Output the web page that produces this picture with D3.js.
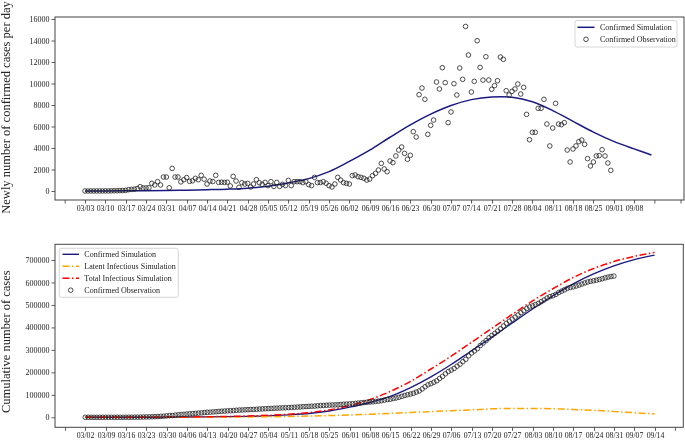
<!DOCTYPE html>
<html>
<head>
<meta charset="utf-8">
<script src="https://cdn.jsdelivr.net/npm/d3@7"></script>
<style>
html,body{margin:0;padding:0;background:#fff;}
svg{display:block;}
text{font-family:"Liberation Serif","Times New Roman",serif;fill:#222;}
</style>
</head>
<body>
<svg id="chart" width="685" height="440">
  <defs>
    <filter id="gray" x="-10%" y="-10%" width="120%" height="120%">
      <feColorMatrix type="saturate" values="0"/>
    </filter>
  </defs>
</svg>
<script>
// ---------- DATA ----------
const topStart = "03/03";
const bottomStart = "03/02";

const topTickLabels = ["03/03","03/10","03/17","03/24","03/31","04/07","04/14","04/21","04/28","05/05","05/12","05/19","05/26","06/02","06/09","06/16","06/23","06/30","07/07","07/14","07/21","07/28","08/04","08/11","08/18","08/25","09/01","09/08"];
const topBlankTicks = ["02/25","09/15","09/24"];
const topYTicks = [0,2000,4000,6000,8000,10000,12000,14000,16000];

const bottomTickLabels = ["03/02","03/09","03/16","03/23","03/30","04/06","04/13","04/20","04/27","05/04","05/11","05/18","05/25","06/01","06/08","06/15","06/22","06/29","07/06","07/13","07/20","07/27","08/03","08/10","08/17","08/24","08/31","09/07","09/14"];
const bottomBlankTicks = ["02/24","09/21"];
const bottomYTicks = [0,100000,200000,300000,400000,500000,600000,700000];

// Newly confirmed cases per day, observed (from 03/03, one per day)
const dailyObserved = [2,1,3,2,4,3,3,9,7,15,
22,26,40,45,60,120,150,170,230,400,
280,290,300,710,560,870,560,1300,1300,300,
2100,1300,1300,850,1050,1250,900,950,1180,1050,
1460,1100,650,930,880,1460,800,820,800,820,
470,1360,930,340,770,650,710,370,650,1050,
770,620,800,500,870,430,800,430,620,500,
990,500,870,870,870,780,870,600,500,1270,
780,780,870,720,500,370,650,1270,1020,780,
710,650,
1430,1490,1330,1270,1180,1020,1110,1430,1640,1950,
2570,2050,1800,2790,2640,3260,3810,4090,3500,2950,
3320,5520,5020,8960,9580,8530,5270,6110,6600,10140,
9490,11470,10080,6360,7350,9980,8930,11440,10390,15310,
12650,9210,10200,13980,11500,10320,12490,10320,9460,9800,
10260,12460,12250,9330,8930,9270,9490,9950,9020,9640,
7130,4770,5460,5460,7690,7690,8530,6230,4190,5860,
8150,6230,6170,6360,3810,2700,3910,4190,4590,4740,
4340,3010,2330,2700,3260,3290,3840,3260,2600,1920];

// Daily confirmed simulation (sampled)
const dailySimDates = ["03/03","03/10","03/17","03/24","03/31","04/07","04/14","04/21","04/28","05/05","05/12","05/19","05/26","06/02","06/09","06/16","06/23","06/30","07/07","07/14","07/21","07/28","08/04","08/11","08/18","08/25","09/01","09/08","09/14"];
const dailySimValues = [0,5,15,30,50,80,120,170,260,450,750,1150,1800,2750,3800,5000,6150,7150,7950,8500,8750,8720,8300,7480,6480,5480,4620,3920,3350];

// Cumulative observed (from 03/02, one per day)
const cumulativeObserved = [2,
4,5,8,10,14,17,20,29,36,51,
73,99,139,184,244,364,514,684,914,1314,
1594,1884,2184,2894,3454,4324,4884,6184,7484,7784,
9884,11184,12484,13334,14384,15634,16534,17484,18664,19714,
21174,22274,22924,23854,24734,26194,26994,27814,28614,29434,
29904,31264,32194,32534,33304,33954,34664,35034,35684,36734,
37504,38124,38924,39424,40294,40724,41524,41954,42574,43074,
44064,44564,45434,46304,47174,47954,48824,49424,49924,51194,
51974,52754,53624,54344,54844,55214,55864,57134,58154,58934,
59644,60294,
61724,63214,64544,65814,66994,68014,69124,70554,72194,74144,
76714,78764,80564,83354,85994,89254,93064,97154,100654,103604,
106924,112444,117464,126424,136004,144534,149804,155914,162514,172654,
182144,193614,203694,210054,217404,227384,236314,247754,258144,273454,
286104,295314,305514,319494,330994,341314,353804,364124,373584,383384,
393644,406104,418354,427684,436614,445884,455374,465324,474344,483984,
491114,495884,501344,506804,514494,522184,530714,536944,541134,546994,
555144,561374,567544,573904,577714,580414,584324,588514,593104,597844,
602184,605194,607524,610224,613484,616774,620614,623874,626474,628394];

// Cumulative simulations (sampled weekly from 03/02)
const cumSimDates = ["03/02","03/09","03/16","03/23","03/30","04/06","04/13","04/20","04/27","05/04","05/11","05/18","05/25","06/01","06/08","06/15","06/22","06/29","07/06","07/13","07/20","07/27","08/03","08/10","08/17","08/24","08/31","09/07","09/14"];
const confirmedSim = [0,50,150,350,650,1100,1800,2800,4300,6500,11000,17000,28000,45000,66000,93000,132000,180000,235000,296000,357000,420000,482000,541000,594000,638000,674000,702000,722000];
const latentSim = [0,30,80,150,270,450,700,1100,1700,2600,3900,5600,7800,10500,13800,17500,21500,25500,29500,33000,37500,39500,39500,38000,35000,31000,26000,20500,15000];
const totalInfectiousSim = [0,60,200,450,900,1500,2500,3800,5800,8800,13500,21000,33000,52000,79000,115000,160000,215000,272000,334000,396000,458000,518000,572000,622000,662000,693000,716000,734000];

const topYLabel = "Newly number of confirmed cases per day";
const bottomYLabel = "Cumulative number of cases";
const topLegend = ["Confirmed Simulation","Confirmed Observation"];
const bottomLegend = ["Confirmed Simulation","Latent Infectious Simulation","Total Infectious Simulation","Confirmed Observation"];

// ---------- DRAW ----------
const svg = d3.select("#chart");
const parse = s => d3.utcParse("%Y/%m/%d")("2020/" + s);
const dayMs = 86400000;
const fmt = d3.utcFormat("%m/%d");

const C = {navy:"#1a1a80", orange:"#ffa500", red:"#ff0000", axis:"#333", circle:"#222"};
const dashDot = "7,2.5,1.5,2.5";
const TICK_FS = 7.8;

function panel(cfg) {
  const start = parse(cfg.start);
  const x = d3.scaleUtc()
    .domain([new Date(+start + cfg.dayDomain[0]*dayMs), new Date(+start + cfg.dayDomain[1]*dayMs)])
    .range([cfg.left, cfg.right]);
  const y = d3.scaleLinear().domain(cfg.yDomain).range([cfg.bottom, cfg.top]);
  const g = svg.append("g");

  // x axis: labelled ticks
  const xAxis = d3.axisBottom(x).tickValues(cfg.xTicks.map(parse))
    .tickFormat(fmt).tickSize(3.5).tickPadding(2);
  const gx = g.append("g").attr("filter", "url(#gray)").attr("transform", `translate(0,${cfg.bottom})`).call(xAxis);
  gx.select(".domain").remove();
  gx.selectAll(".tick").attr("transform", d => `translate(${Math.round(x(d)) + 0.5},0)`);
  gx.selectAll("line").attr("stroke", C.axis).attr("stroke-width", 0.8);
  gx.selectAll("text").attr("font-size", TICK_FS).attr("fill", "#222")
    .attr("font-family", '"Liberation Serif",serif');
  // x axis: unlabelled ticks
  const gxb = g.append("g").attr("transform", `translate(0,${cfg.bottom})`)
    .call(d3.axisBottom(x).tickValues(cfg.xBlank.map(parse)).tickFormat(() => "").tickSize(3.5));
  gxb.select(".domain").remove();
  gxb.selectAll("text").remove();
  gxb.selectAll("line").attr("stroke", C.axis).attr("stroke-width", 0.8);

  // y axis
  const yAxis = d3.axisLeft(y).tickValues(cfg.yTicks).tickFormat(d3.format("d")).tickSize(3.5).tickPadding(2);
  const gy = g.append("g").attr("filter", "url(#gray)").attr("transform", `translate(${cfg.left},0)`).call(yAxis);
  gy.select(".domain").remove();
  gy.selectAll("line").attr("stroke", C.axis).attr("stroke-width", 0.8);
  gy.selectAll("text").attr("font-size", 8).attr("fill", "#222")
    .attr("font-family", '"Liberation Serif",serif');

  // frame
  g.append("rect").attr("x", cfg.left).attr("y", cfg.top)
    .attr("width", cfg.right - cfg.left).attr("height", cfg.bottom - cfg.top)
    .attr("fill", "none").attr("stroke", "#444").attr("stroke-width", 1);

  // y label
  g.append("g").attr("filter", "url(#gray)").append("text")
    .attr("transform", `translate(${cfg.labelX},${cfg.labelY}) rotate(-90)`)
    .attr("text-anchor", "middle").attr("font-size", 12.5).text(cfg.yLabel);

  return {x, y, g, start};
}

// ----- Top panel -----
const P1 = panel({start: topStart, dayDomain: [-10.33, 206.2], left: 55, right: 684, top: 17, bottom: 200,
  yDomain: [-837, 16186], xTicks: topTickLabels, xBlank: topBlankTicks, yTicks: topYTicks,
  yLabel: topYLabel, labelX: 10, labelY: 107.5});

P1.g.append("path")
  .datum(dailySimDates.map((d, i) => ({date: parse(d), v: dailySimValues[i]})))
  .attr("fill", "none").attr("stroke", C.navy).attr("stroke-width", 1.5)
  .attr("d", d3.line().x(d => P1.x(d.date)).y(d => P1.y(d.v)).curve(d3.curveCatmullRom.alpha(0.5)));

P1.g.append("g").selectAll("circle").data(dailyObserved).join("circle")
  .attr("cx", (d, i) => P1.x(d3.utcDay.offset(P1.start, i)))
  .attr("cy", d => P1.y(d))
  .attr("r", 2.3).attr("fill", "none").attr("stroke", C.circle).attr("stroke-width", 0.8);

// top legend
(function () {
  const lg = P1.g.append("g");
  lg.append("rect").attr("x", 575).attr("y", 20.5).attr("width", 102).attr("height", 26.5)
    .attr("rx", 2).attr("fill", "#fff").attr("fill-opacity", 0.8).attr("stroke", "#cccccc").attr("stroke-width", 0.8);
  const rows = [27.3, 39.3];
  lg.append("line").attr("x1", 577.5).attr("x2", 594.5).attr("y1", rows[0]).attr("y2", rows[0])
    .attr("stroke", C.navy).attr("stroke-width", 1.5);
  lg.append("circle").attr("cx", 586).attr("cy", rows[1]).attr("r", 2.3)
    .attr("fill", "none").attr("stroke", C.circle).attr("stroke-width", 0.8);
  const tg = lg.append("g").attr("filter", "url(#gray)");
  topLegend.forEach((t, i) => tg.append("text").attr("x", 600).attr("y", rows[i]).attr("dy", "0.33em")
    .attr("font-size", 8).text(t));
})();

// ----- Bottom panel -----
const P2 = panel({start: bottomStart, dayDomain: [-10.43, 205.9], left: 55, right: 683.3, top: 244.3, bottom: 427.3,
  yDomain: [-44500, 769900], xTicks: bottomTickLabels, xBlank: bottomBlankTicks, yTicks: bottomYTicks,
  yLabel: bottomYLabel, labelX: 10, labelY: 341.7});

function simLine(values, color, dash, w) {
  P2.g.append("path")
    .datum(cumSimDates.map((d, i) => ({date: parse(d), v: values[i]})))
    .attr("fill", "none").attr("stroke", color).attr("stroke-width", w)
    .attr("stroke-dasharray", dash)
    .attr("d", d3.line().x(d => P2.x(d.date)).y(d => P2.y(d.v)).curve(d3.curveMonotoneX));
}
simLine(confirmedSim, C.navy, null, 1.4);
simLine(latentSim, C.orange, dashDot, 1.5);
simLine(totalInfectiousSim, C.red, dashDot, 1.5);

P2.g.append("g").selectAll("circle").data(cumulativeObserved).join("circle")
  .attr("cx", (d, i) => P2.x(d3.utcDay.offset(P2.start, i)))
  .attr("cy", d => P2.y(d))
  .attr("r", 2.3).attr("fill", "none").attr("stroke", C.circle).attr("stroke-width", 0.8);

// bottom legend
(function () {
  const lg = P2.g.append("g");
  lg.append("rect").attr("x", 59.3).attr("y", 248.3).attr("width", 119).attr("height", 49)
    .attr("rx", 2).attr("fill", "#fff").attr("fill-opacity", 0.8).attr("stroke", "#cccccc").attr("stroke-width", 0.8);
  const rows = [254.3, 266.3, 278.3, 290.2];
  const styles = [[C.navy, null], [C.orange, dashDot], [C.red, dashDot]];
  styles.forEach((s, i) => lg.append("line").attr("x1", 62.5).attr("x2", 79).attr("y1", rows[i]).attr("y2", rows[i])
    .attr("stroke", s[0]).attr("stroke-width", 1.4).attr("stroke-dasharray", s[1]));
  lg.append("circle").attr("cx", 70.7).attr("cy", rows[3]).attr("r", 2.3)
    .attr("fill", "none").attr("stroke", C.circle).attr("stroke-width", 0.8);
  const tg = lg.append("g").attr("filter", "url(#gray)");
  bottomLegend.forEach((t, i) => tg.append("text").attr("x", 84.3).attr("y", rows[i]).attr("dy", "0.33em")
    .attr("font-size", 8).text(t));
})();
</script>
</body>
</html>
